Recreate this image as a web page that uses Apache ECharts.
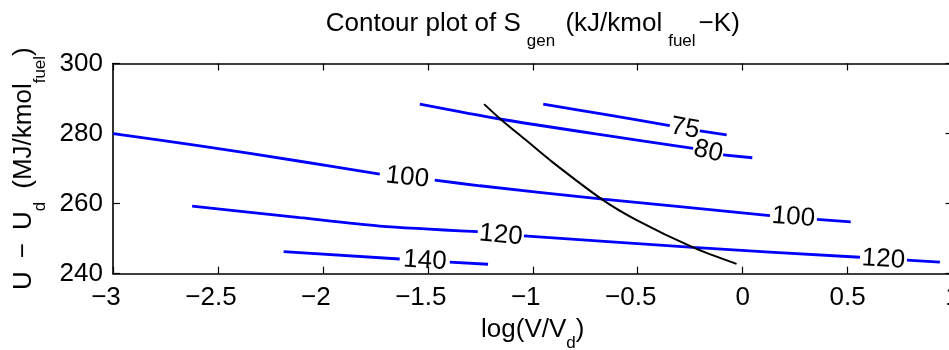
<!DOCTYPE html>
<html><head><meta charset="utf-8">
<script src="https://cdn.jsdelivr.net/npm/echarts@6/dist/echarts.min.js"></script>
<style>html,body{margin:0;padding:0;background:#fff}#c{width:949px;height:350px}</style>
</head><body><div id="c"></div>
<script>
// ---- data ----
const xTicks = [-3, -2.5, -2, -1.5, -1, -0.5, 0, 0.5, 1];
const yTicks = [240, 260, 280, 300];
const contourLevels = [75, 80, 100, 120, 140];
// each contour: [x, y] points, null = gap left for the inline label
const contour75 = [[-0.950, 288.4], [-0.650, 285.4], [-0.347, 282.3], null, [-0.204, 280.8], [-0.076, 279.6]];
const contour80 = [[-1.538, 288.4], [-1.170, 284.3], [-0.700, 279.9], [-0.236, 275.8], null, [-0.093, 273.9], [0.046, 273.1]];
const contour100 = [[-3.000, 280.0], [-2.586, 276.5], [-2.110, 272.1], [-1.729, 268.4], null,
  [-1.467, 266.7], [-1.252, 265.1], [-0.666, 261.3], [0.130, 256.6], null, [0.354, 255.5], [0.515, 254.8]];
const contour120 = [[-2.623, 259.3], [-2.110, 256.0], [-1.729, 253.6], [-1.262, 252.0], null,
  [-1.042, 250.8], [-0.236, 247.5], [0.559, 244.7], null, [0.783, 243.9], [0.940, 243.3]];
const contour140 = [[-2.187, 246.3], [-1.634, 244.2], null, [-1.395, 243.3], [-1.213, 242.7]];
const labelLevels = [75, 80, 100, 100, 120, 120, 140];
const labelX = [-0.275, -0.164, -1.598, 0.242, -1.152, 0.671, -1.514];
const labelY = [281.5, 274.9, 267.5, 256.1, 251.0, 244.1, 243.7];
const operatingCurve = [[-1.232, 288.4], [-1.149, 283.9], [-1.030, 278.0], [-0.903, 271.7],
  [-0.672, 261.3], [-0.505, 255.3], [-0.236, 247.5], [-0.029, 242.8]];

// ---- chart ----
const contours = [contour75, contour80, contour100, contour120, contour140];
const FONT = "'Liberation Sans', Arial, Helvetica, sans-serif";
const FS = 26;
const minus = v => String(v).replace('-', '\u2212');
const fmtX = v => v < 0 ? '{n|' + minus(v) + '}' : '{p|' + minus(v) + '}';
const fmtY = v => minus(v);

const gridLeft = 113, gridRight = -3.5, gridTop = 63.5, gridBottom = 76.3;
const W = 949;

function splitSegments(arr) {
  const segs = []; let cur = [];
  arr.forEach(p => { if (p === null) { if (cur.length) segs.push(cur); cur = []; } else cur.push(p); });
  if (cur.length) segs.push(cur);
  return segs;
}

const series = [];
contours.forEach((c, ci) => {
  splitSegments(c).forEach(seg => {
    series.push({
      type: 'line', name: 'S' + contourLevels[ci], data: seg, showSymbol: false, symbol: 'none',
      smooth: 0.25, lineStyle: { color: '#0000ff', width: 2.8 }, silent: true, z: 3
    });
  });
});
series.push({
  type: 'line', name: 'curve', data: operatingCurve, showSymbol: false, symbol: 'none', smooth: 0.3,
  lineStyle: { color: '#000', width: 2 }, silent: true, z: 4
});

function labelData(rots) {
  return labelX.map((x, i) => ({
    value: [x, labelY[i], labelLevels[i]],
    label: { rotate: rots ? rots[i] : 0 }
  }));
}
series.push({
  type: 'scatter', name: 'labels', data: labelData(null), symbolSize: 0, silent: true, z: 5,
  itemStyle: { opacity: 1 },
  label: { show: true, position: 'inside', formatter: p => String(p.value[2]),
    fontFamily: FONT, fontSize: FS, color: '#000', opacity: 1, textBorderWidth: 0 }
});

const axisLine = { show: true, onZero: false, lineStyle: { color: '#000', width: 1.6 } };
const axisTick = { show: true, inside: true, length: 7, lineStyle: { color: '#000', width: 1.2 } };
// rich styles: main text top-aligned, subscript bottom-aligned, an invisible holder sets the line height
const richFor = (fs, shift, padL, padR) => ({
  a: { fontFamily: FONT, fontSize: fs, fontWeight: 'normal', color: '#000', lineHeight: 26, verticalAlign: 'top' },
  s: { fontFamily: FONT, fontSize: 17, fontWeight: 'normal', color: '#000', lineHeight: 26, verticalAlign: 'bottom',
       padding: [0, padR, 0, padL] },
  h: { fontSize: 2, lineHeight: 26 + shift, verticalAlign: 'top' }
});

const option = {
  animation: false,
  backgroundColor: '#fff',
  title: {
    text: '{a|Contour plot of S}{s|gen}{a| (kJ/kmol}{s|fuel}{a|\u2212K)}{h|\u200b}',
    left: gridLeft + (W - gridLeft - gridRight) / 2, top: 11, textAlign: 'center', padding: 0,
    textStyle: { fontWeight: 'normal', rich: richFor(26, 13, 6, 3) }
  },
  grid: { left: gridLeft, right: gridRight, top: gridTop, bottom: gridBottom, containLabel: false, outerBoundsMode: 'none' },
  xAxis: [
    { type: 'value', min: xTicks[0], max: xTicks[xTicks.length - 1], interval: 0.5, position: 'bottom',
      axisLine, axisTick, splitLine: { show: false },
      axisLabel: { fontFamily: FONT, fontSize: FS, color: '#000', margin: 11, formatter: fmtX,
        showMaxLabel: true, alignMaxLabel: 'center', alignMinLabel: 'center',
        rich: { n: { fontFamily: FONT, fontSize: FS, color: '#000', padding: [0, 14, 0, 0] },
                p: { fontFamily: FONT, fontSize: FS, color: '#000' } } },
      name: '{a|log(V/V}{s|d}{a|)}{h|\u200b}', nameLocation: 'middle', nameGap: 43,
      nameTextStyle: { rich: richFor(26, 9, 0, 0) } },
    { type: 'value', min: xTicks[0], max: xTicks[xTicks.length - 1], interval: 0.5, position: 'top',
      axisLine, axisTick, axisLabel: { show: false }, splitLine: { show: false } }
  ],
  yAxis: [
    { type: 'value', min: yTicks[0], max: yTicks[yTicks.length - 1], interval: 20, position: 'left',
      axisLine, axisTick, splitLine: { show: false },
      axisLabel: { fontFamily: FONT, fontSize: FS, color: '#000', margin: 10, formatter: fmtY },
      name: '{a|U\u2002\u2212\u2002U}{s|d}{a|\u2002(MJ/kmol}{s|fuel}{a|)}{h|\u200b}', nameLocation: 'middle', nameGap: 63,
      nameTextStyle: { rich: richFor(26, 12, 0, 0) } },
    { type: 'value', min: yTicks[0], max: yTicks[yTicks.length - 1], interval: 20, position: 'right',
      axisLine, axisTick, axisLabel: { show: false }, splitLine: { show: false } }
  ],
  series
};

const chart = echarts.init(document.getElementById('c'), null, { renderer: 'canvas' });
chart.setOption(option);

// rotate the inline labels along their contour (from the points bordering each gap)
const rots = labelX.map((x, i) => {
  const c = contours[contourLevels.indexOf(labelLevels[i])];
  let best = null, bestD = Infinity;
  for (let k = 1; k < c.length - 1; k++) {
    if (c[k] !== null) continue;
    const a = c[k - 1], b = c[k + 1];
    const d = Math.abs((a[0] + b[0]) / 2 - x);
    if (d < bestD) { bestD = d; best = [a, b]; }
  }
  if (!best) return 0;
  const pa = chart.convertToPixel({ xAxisIndex: 0, yAxisIndex: 0 }, best[0]);
  const pb = chart.convertToPixel({ xAxisIndex: 0, yAxisIndex: 0 }, best[1]);
  return -Math.atan2(pb[1] - pa[1], pb[0] - pa[0]) * 180 / Math.PI;
});
const labelSeriesIndex = series.length - 1;
const upd = series.map((s, i) => i === labelSeriesIndex ? { data: labelData(rots) } : {});
chart.setOption({ series: upd });
</script>
</body></html>
